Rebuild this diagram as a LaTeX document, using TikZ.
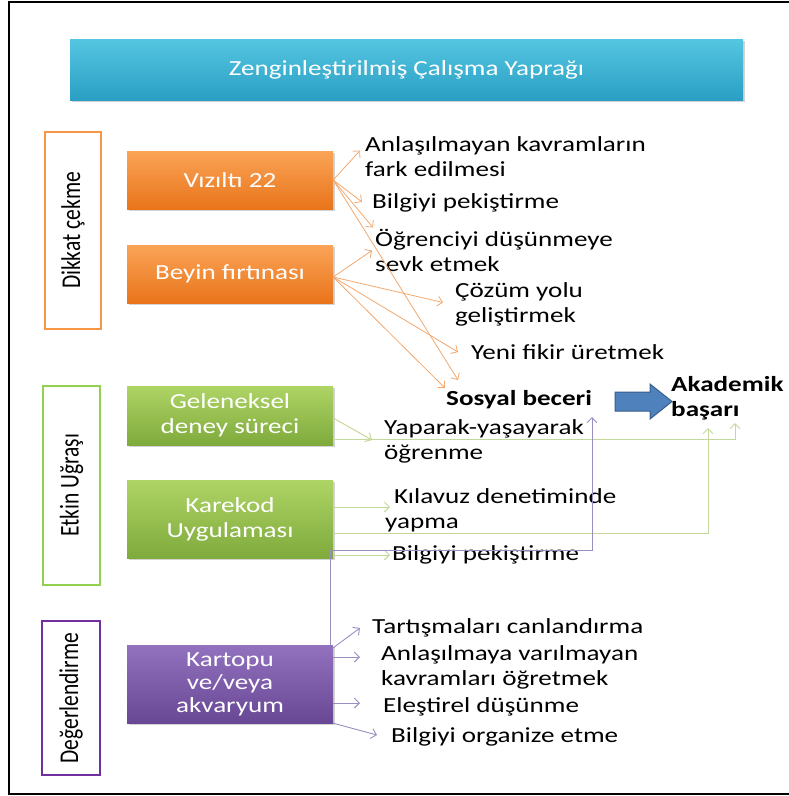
\documentclass[tikz,border=0pt]{standalone}
\usepackage{fontspec}
\setmainfont{Carlito}[FakeStretch=1.26]
\newfontfamily\plainfont{Carlito}
\usepackage{xcolor}
\usepackage{graphicx}
\usetikzlibrary{arrows.meta}
\usetikzlibrary{shadows}

\definecolor{cyanTop}{HTML}{55C6E2}
\definecolor{cyanBot}{HTML}{2A9FC3}
\definecolor{orTop}{HTML}{FAA457}
\definecolor{orBot}{HTML}{E9741A}
\definecolor{grTop}{HTML}{AED465}
\definecolor{grBot}{HTML}{7FAA3C}
\definecolor{puTop}{HTML}{9272BE}
\definecolor{puBot}{HTML}{684895}
\definecolor{orFrame}{HTML}{F79646}
\definecolor{grFrame}{HTML}{92D050}
\definecolor{puFrame}{HTML}{7030A0}
\definecolor{orLine}{HTML}{F2A86E}
\definecolor{grLine}{HTML}{C4D89B}
\definecolor{puLine}{HTML}{9A8DC0}
\definecolor{arFill}{HTML}{4F81BD}
\definecolor{arEdge}{HTML}{385D8A}

\newcommand\txtsize{\fontsize{21.5}{25}\selectfont}

\tikzset{
  colbox/.style={rectangle, inner sep=0pt, minimum width=206pt, text=white,
    align=center, font=\txtsize,
    drop shadow={opacity=0.35, shadow xshift=1.5pt, shadow yshift=-2pt}},
  orbox/.style={colbox, top color=orTop, bottom color=orBot},
  grbox/.style={colbox, top color=grTop, bottom color=grBot},
  pubox/.style={colbox, top color=puTop, bottom color=puBot},
  sidebox/.style={rectangle, inner sep=0pt, line width=2.2pt, fill=white,
    font=\txtsize},
  txt/.style={anchor=west, inner sep=0pt, align=left, font=\txtsize},
  tip/.style={-{Straight Barb[length=5pt,width=10pt]}},
  orline/.style={draw=orLine, line width=0.8pt, tip},
  grline/.style={draw=grLine, line width=1pt, tip},
  puline/.style={draw=puLine, line width=0.9pt, tip},
}

\begin{document}
\begin{tikzpicture}[x=1pt, y=-1pt]
  \useasboundingbox (0,0) rectangle (789,796);
  % outer frame
  \draw[line width=2pt] (789,2) -- (9,2) -- (9,794) -- (789,794);

  % title
  \node[colbox, top color=cyanTop, bottom color=cyanBot, minimum width=673pt,
    minimum height=61pt] (title) at (406.5,69.5)
    {Zenginleştirilmiş Çalışma Yaprağı};

  % stage frames on the left
  \node[sidebox, draw=orFrame, minimum width=56pt, minimum height=197pt] (dikkat)
    at (73,230.5) {\rotatebox{90}{\scalebox{1}[1.26]{\plainfont Dikkat çekme}}};
  \node[sidebox, draw=grFrame, minimum width=57pt, minimum height=199pt] (etkin)
    at (71.5,485.5) {\rotatebox{90}{\scalebox{1}[1.26]{\plainfont Etkin Uğraşı}}};
  \node[sidebox, draw=puFrame, minimum width=58pt, minimum height=154pt] (degerlen)
    at (71,698) {\rotatebox{90}{\scalebox{1}[1.26]{\plainfont Değerlendirme}}};

  % activity boxes
  \node[orbox, minimum height=58pt] (vizilti) at (230,180) {Vızıltı 22};
  \node[orbox, minimum height=58pt] (beyin) at (230,274) {Beyin fırtınası};
  \node[grbox, minimum height=59pt] (gelen) at (230,415.5) {Geleneksel\\deney süreci};
  \node[grbox, minimum height=78pt] (kare) at (230,519) {Karekod\\Uygulaması};
  \node[pubox, minimum height=78pt, font=\fontsize{21.5}{23}\selectfont] (kartopu)
    at (230,684) {Kartopu\\ve/veya\\akvaryum};

  % outcomes
  \node[txt] (anlas) at (365,156.5) {Anlaşılmayan kavramların\\fark edilmesi};
  \node[txt] (bilgiA) at (372,203) {Bilgiyi pekiştirme};
  \node[txt] (ogrenci) at (375,250.5) {Öğrenciyi düşünmeye\\sevk etmek};
  \node[txt] (cozum) at (455,304.5) {Çözüm yolu\\geliştirmek};
  \node[txt] (yeni) at (471,352) {Yeni fikir üretmek};
  \node[txt, font=\txtsize\bfseries] (sosyal) at (446,400) {Sosyal beceri};
  \node[txt, font=\txtsize\bfseries] (akademik) at (671,398.5) {Akademik\\başarı};
  \node[txt] (yaparak) at (384,441) {Yaparak-yaşayarak\\öğrenme};
  \node[txt] (kilavuz) at (385,510) {\hspace*{9pt}Kılavuz denetiminde\\yapma};
  \node[txt] (bilgiB) at (392,555) {Bilgiyi pekiştirme};
  \node[txt] (tartis) at (372,628) {Tartışmaları canlandırma};
  \node[txt] (anlasilmaya) at (381,667.5) {Anlaşılmaya varılmayan\\kavramları öğretmek};
  \node[txt] (elestirel) at (383,707) {Eleştirel düşünme};
  \node[txt] (organize) at (391,737) {Bilgiyi organize etme};

  % big arrow to academic success
  \filldraw[fill=arFill, draw=arEdge, line width=1pt]
    (615,392) -- (650,392) -- (650,384) -- (672,401.5) -- (650,419)
    -- (650,411) -- (615,411) -- cycle;

  % attention links
  \draw[orline] (vizilti.east) -- ([shift={(-5,-6)}]anlas.west);
  \draw[orline] (vizilti.east) -- ([shift={(-10,-1)}]bilgiA.west);
  \draw[orline] (vizilti.east) -- ([shift={(-2,-23)}]ogrenci.west);
  \draw[orline] (vizilti.east) -- ([shift={(12,-20)}]sosyal.west);
  \draw[orline] ([shift={(0,3)}]beyin.east) -- ([shift={(-3,0)}]ogrenci.west);
  \draw[orline] ([shift={(0,3)}]beyin.east) -- ([shift={(-12,-2)}]cozum.west);
  \draw[orline] ([shift={(0,3)}]beyin.east) -- ([shift={(-13,0)}]yeni.west);
  \draw[orline] ([shift={(0,3)}]beyin.east) -- ([shift={(-1,-12)}]sosyal.west);

  % active work links
  \draw[grline] ([shift={(0,2.5)}]gelen.east) -- ([shift={(-12,-1)}]yaparak.west);
  \draw[grline] ([shift={(0,23.5)}]gelen.east) -| ([shift={(64,24.5)}]akademik.west);
  \draw[grline] ([shift={(0,-12)}]kare.east) -- ([shift={(5,-3)}]kilavuz.west);
  \draw[grline] ([shift={(0,14)}]kare.east) -| ([shift={(37,29.5)}]akademik.west);
  \draw[grline] ([shift={(0,36)}]kare.east) -- ([shift={(-2,0)}]bilgiB.west);

  % evaluation links
  \draw[puline] ([shift={(-3,0)}]kartopu.north east) -- ([shift={(-3,-8)}]kare.south east)
    -| ([shift={(146,17)}]sosyal.west);
  \draw[puline] ([shift={(0,3)}]kartopu.north east) -- ([shift={(-12,0)}]tartis.west);
  \draw[puline] ([shift={(0,-27)}]kartopu.east) -- ([shift={(-21,-10.5)}]anlasilmaya.west);
  \draw[puline] ([shift={(0,19)}]kartopu.east) -- ([shift={(-23,-4)}]elestirel.west);
  \draw[puline] (kartopu.south east) -- ([shift={(-14,-2)}]organize.west);
\end{tikzpicture}
\end{document}
